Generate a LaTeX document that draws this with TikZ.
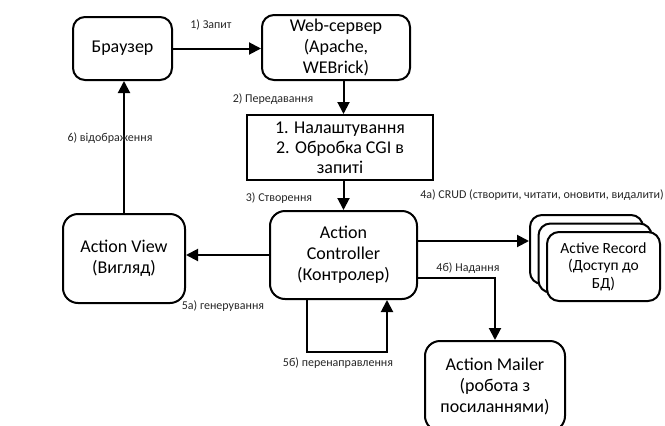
\documentclass[tikz,border=0pt]{standalone}
\usepackage{fontspec}
\setmainfont{Carlito}
\usetikzlibrary{arrows.meta}
\begin{document}
\begin{tikzpicture}[x=1pt,y=-1pt,
  box/.style={draw,line width=2pt,rounded corners=12pt,align=center,inner sep=0pt,
    font=\fontsize{18}{21}\selectfont,fill=white},
  sqbox/.style={draw,line width=2pt,align=center,inner sep=0pt,
    font=\fontsize{18}{20}\selectfont},
  arr/.style={line width=2pt,-{Triangle[length=12pt,width=12pt]}},
  lbl/.style={font=\fontsize{12}{13}\selectfont,inner sep=0pt,text=black!85}]
\clip (0,0) rectangle (665,426);
\useasboundingbox (0,0) rectangle (665,426);
\node[box,minimum width=99pt,minimum height=63pt] (browser) at (122.5,48.5) {Браузер};
\node[box,minimum width=148pt,minimum height=65pt] (web) at (336,47.5) {Web-сервер\\(Apache,\\WEBrick)};
\node[sqbox,minimum width=186pt,minimum height=65pt] (proc) at (340,147.5) {1. Налаштування\\2. Обробка CGI в\\запиті};
\node[box,rounded corners=15pt,minimum width=147pt,minimum height=88pt] (ctrl) at (343.5,255) {Action\\Controller\\(Контролер)};
\node[box,rounded corners=15pt,minimum width=122pt,minimum height=89pt] (view) at (124,258.5) {Action View\\(Вигляд)};
\node[box,minimum width=113pt,minimum height=69pt] (ar1) at (586.5,249.5) {};
\node[box,minimum width=113pt,minimum height=69pt] (ar2) at (595,258) {};
\node[box,minimum width=113pt,minimum height=69pt,font=\fontsize{15.5}{17.5}\selectfont] (ar3) at (603.5,266.5) {Active Record\\(Доступ до\\БД)};
\node[box,rounded corners=15pt,minimum width=140pt,minimum height=90pt] (mailer) at (495,386) {Action Mailer\\(робота з\\посиланнями)};
% connectors
\draw[arr] (browser.east) -- (web.west |- browser.east);
\draw[arr] (web.south -| ctrl.north) -- (proc.north -| ctrl.north);
\draw[arr] (proc.south -| ctrl.north) -- (ctrl.north);
\draw[arr] (ctrl.west) -- (view.east |- ctrl.west);
\draw[arr] (view.north) -- (view.north |- browser.south);
\coordinate (crud) at (417,241);
\draw[arr] (crud) -- (ar1.west |- crud);
\coordinate (mk) at (495,278);
\draw[arr] (ctrl.east |- mk) -- (mk) -- (mk |- mailer.north);
\coordinate (lb) at (307,352);
\coordinate (rb) at (387,352);
\draw[arr] (lb |- ctrl.south) -- (lb) -- (rb) -- (rb |- ctrl.south);
% labels
\node[lbl] (l1) at (211,25) {1) Запит};
\node[lbl] (l2) at (273,99) {2) Передавання};
\node[lbl] (l3) at (279,198) {3) Створення};
\node[lbl] (l4a) at (542,195) {4а) CRUD (створити, читати, оновити, видалити)};
\node[lbl] (l4b) at (468,268) {4б) Надання};
\node[lbl] (l5a) at (223,306) {5а) генерування};
\node[lbl] (l5b) at (338,363) {5б) перенаправлення};
\node[lbl] (l6) at (110,138) {6) відображення};
\end{tikzpicture}
\end{document}
